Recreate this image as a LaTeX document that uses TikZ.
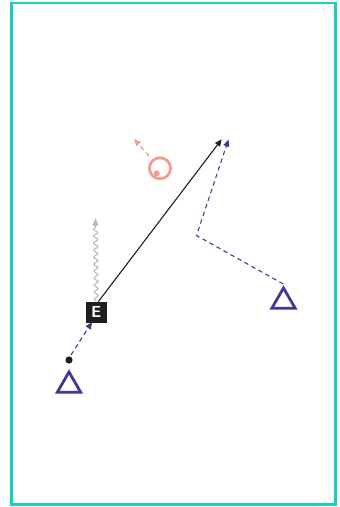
\documentclass[tikz,border=0pt]{standalone}
\usetikzlibrary{shapes.geometric,decorations.pathmorphing,arrows.meta}
\definecolor{frameteal}{RGB}{22,206,194}
\definecolor{pinkc}{RGB}{243,156,148}
\definecolor{bluec}{RGB}{66,56,148}
\definecolor{grayc}{RGB}{185,185,185}
\definecolor{darkc}{RGB}{30,30,30}
\tikzset{
  tri/.style={regular polygon, regular polygon sides=3, draw=bluec, line width=2.8pt, minimum size=27pt, inner sep=0pt},
  ebox/.style={fill=darkc, text=white, minimum size=21pt, inner sep=0pt, font=\sffamily\bfseries\fontsize{16}{16}\selectfont},
  bdash/.style={draw=bluec, dashed, line width=1.1pt, dash pattern=on 4.5pt off 3.5pt, -{Triangle[length=7pt,width=6pt]}},
  pdash/.style={draw=pinkc, dashed, line width=1.3pt, dash pattern=on 4.5pt off 3.5pt, -{Triangle[length=7pt,width=6pt]}},
}
\begin{document}
\begin{tikzpicture}[x=1pt,y=1pt]
\useasboundingbox (0,0) rectangle (340,-507);
\draw[frameteal, line width=2.2pt] (11.5,-3) rectangle (335.5,-504.5);
% nodes
\node[ebox] (E) at (96.3,-312) {E};
\node[tri] (t1) at (69,-385.5) {};
\node[tri] (t2) at (283.5,-301.5) {};
\fill[darkc] (69,-360) circle (3.6) coordinate (dot);
\node[circle, draw=pinkc, line width=2.8pt, minimum size=21pt, inner sep=0pt] (pc) at (160,-168.3) {};
\fill[pinkc] (156.7,-173.3) circle (3);
\coordinate (pt) at (134,-139);
\coordinate (bt) at (221.7,-139.3);
\coordinate (gt) at (95.5,-218.5);
\coordinate (corner) at (196.5,-235.5);
\coordinate (btip) at (228.5,-139.5);
\coordinate (s2) at (283.3,-284);
\coordinate (ein) at (92,-322);
% connectors
\draw[pdash] (149,-156) -- (pt);
\draw[grayc, line width=1.1pt, decorate, decoration={snake, amplitude=2pt, segment length=7pt, post length=7pt}] (E.north) -- (gt);
\draw[grayc, line width=1.1pt, -{Triangle[length=7pt,width=6pt]}] ([yshift=-2pt]gt) -- (gt);
\draw[darkc, line width=1.1pt, -{Triangle[length=7pt,width=6pt]}] (98.3,-301.7) -- (bt);
\draw[bdash] (s2) -- (corner) -- (btip);
\draw[bdash] (71,-355) -- (ein);
\end{tikzpicture}
\end{document}
